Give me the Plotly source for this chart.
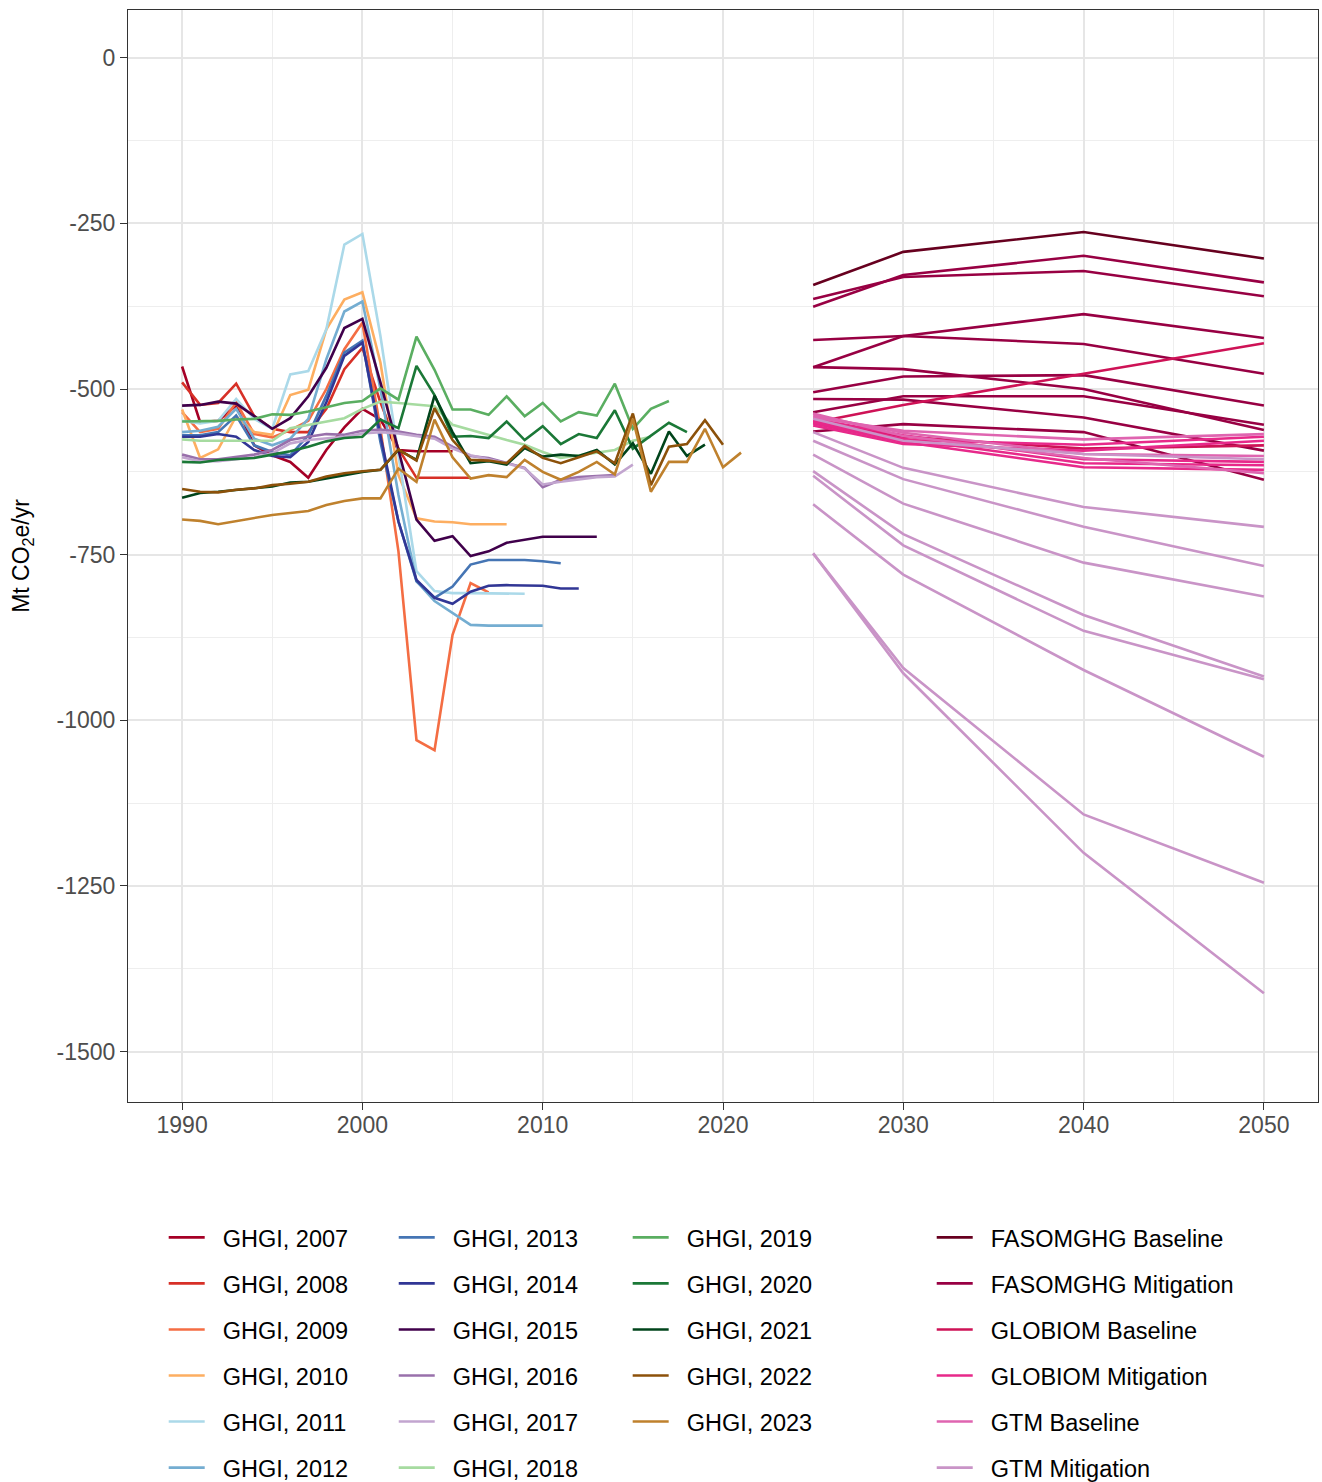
import plotly.graph_objects as go

# ---------------------------------------------------------------------------
# Historical inventory series (Mt CO2e/yr), each starting in 1990
# ---------------------------------------------------------------------------
start_year = 1990

ghgi_2007 = [-466, -550, -548, -525, -585, -600, -610, -634, -592, -558, -530,
             -546, -592, -594, -594, -594]
ghgi_2008 = [-490, -524, -521, -492, -541, -560, -565, -565, -530, -470, -438,
             -520, -590, -634, -634, -634, -634]
ghgi_2009 = [-535, -565, -560, -520, -568, -573, -562, -548, -500, -440, -400,
             -560, -745, -1030, -1045, -871, -793, -807]
ghgi_2010 = [-531, -604, -591, -541, -565, -569, -509, -501, -410, -365, -354,
             -460, -630, -695, -700, -701, -704, -704, -704]
ghgi_2011 = [-548, -552, -548, -515, -545, -560, -478, -473, -410, -282, -266,
             -420, -600, -775, -805, -808, -808, -808, -809, -809]
ghgi_2012 = [-565, -563, -557, -530, -575, -585, -575, -545, -455, -383, -368,
             -500, -660, -790, -820, -838, -856, -857, -857, -857, -857]
ghgi_2013 = [-570, -570, -565, -540, -585, -595, -600, -570, -510, -445, -427,
             -580, -700, -790, -815, -798, -765, -758, -758, -758, -760, -763]
ghgi_2014 = [-572, -572, -568, -572, -592, -601, -603, -580, -520, -450, -430,
             -570, -700, -788, -815, -824, -806, -797, -796, -796, -797, -801,
             -801]
ghgi_2015 = [-525, -524, -519, -522, -541, -560, -544, -511, -468, -408, -394,
             -490, -592, -697, -729, -722, -752, -745, -732, -728, -723, -723,
             -723, -723]
ghgi_2016 = [-599, -606, -606, -603, -599, -592, -577, -572, -568, -569, -563,
             -561, -564, -569, -572, -587, -601, -604, -612, -619, -648, -637,
             -633, -631, -630]
ghgi_2017 = [-603, -609, -609, -606, -603, -597, -582, -577, -574, -572, -567,
             -565, -567, -571, -575, -590, -600, -606, -612, -620, -644, -640,
             -636, -633, -632, -614]
ghgi_2018 = [-576, -578, -578, -578, -578, -578, -559, -554, -549, -544, -530,
             -519, -521, -524, -526, -554, -562, -569, -577, -584, -595, -604,
             -600, -596, -592, -578, -572]
ghgi_2019 = [-549, -549, -548, -546, -545, -538, -539, -534, -527, -521, -518,
             -499, -516, -421, -471, -531, -531, -539, -511, -541, -521, -549,
             -535, -540, -492, -560, -530, -518]
ghgi_2020 = [-610, -611, -607, -606, -604, -599, -594, -587, -579, -574, -572,
             -546, -559, -465, -509, -572, -571, -574, -549, -577, -556, -583,
             -568, -574, -532, -590, -570, -551, -565]
ghgi_2021 = [-664, -657, -655, -652, -650, -647, -641, -640, -635, -630, -625,
             -622, -592, -607, -510, -565, -612, -609, -614, -589, -602, -599,
             -601, -592, -614, -582, -628, -564, -601, -584]
ghgi_2022 = [-651, -655, -656, -652, -650, -645, -643, -640, -632, -627, -624,
             -622, -591, -608, -529, -577, -607, -608, -612, -586, -604, -612,
             -603, -594, -612, -537, -645, -587, -583, -547, -584]
ghgi_2023 = [-697, -699, -704, -699, -695, -690, -687, -684, -675, -669, -665,
             -665, -620, -640, -546, -603, -635, -630, -633, -607, -625, -637,
             -625, -610, -629, -545, -655, -610, -610, -560, -618, -596]

ghgi_names = ["GHGI, 2007", "GHGI, 2008", "GHGI, 2009", "GHGI, 2010",
              "GHGI, 2011", "GHGI, 2012", "GHGI, 2013", "GHGI, 2014",
              "GHGI, 2015", "GHGI, 2016", "GHGI, 2017", "GHGI, 2018",
              "GHGI, 2019", "GHGI, 2020", "GHGI, 2021", "GHGI, 2022",
              "GHGI, 2023"]
ghgi_series = [ghgi_2007, ghgi_2008, ghgi_2009, ghgi_2010, ghgi_2011,
               ghgi_2012, ghgi_2013, ghgi_2014, ghgi_2015, ghgi_2016,
               ghgi_2017, ghgi_2018, ghgi_2019, ghgi_2020, ghgi_2021,
               ghgi_2022, ghgi_2023]
ghgi_colors = ["#a50026", "#d73027", "#f46d43", "#fdae61", "#abd9e9",
               "#74add1", "#4575b4", "#313695", "#40004b", "#9970ab",
               "#c2a5cf", "#a6dba0", "#5aae61", "#1b7837", "#00441b",
               "#8c510a", "#bf812d"]

# ---------------------------------------------------------------------------
# Model projections (Mt CO2e/yr)
# ---------------------------------------------------------------------------
proj_years = [2025, 2030, 2040, 2050]

fasomghg_baseline = [
    [-343, -293, -263, -303],
]
fasomghg_mitigation = [
    [-364, -331, -322, -360],
    [-376, -328, -299, -339],
    [-426, -420, -432, -477],
    [-467, -420, -387, -423],
    [-467, -470, -500, -562],
    [-505, -481, -479, -525],
    [-515, -516, -543, -593],
    [-535, -511, -511, -554],
    [-564, -553, -565, -637],
]
globiom_baseline = [
    [-551, -524, -477, -431],
    [-548, -572, -590, -585],
]
globiom_mitigation = [
    [-548, -575, -612, -615],
    [-552, -580, -618, -622],
    [-545, -570, -606, -610],
    [-550, -577, -584, -572],
    [-555, -583, -593, -578],
]
gtm_baseline = [
    [-540, -566, -598, -601],
    [-543, -563, -576, -568],
    [-537, -571, -604, -627],
]
gtm_mitigation = [
    [-545, -578, -598, -606],
    [-565, -619, -678, -708],
    [-578, -636, -708, -767],
    [-599, -673, -762, -813],
    [-624, -719, -841, -934],
    [-631, -736, -865, -938],
    [-674, -780, -924, -1055],
    [-748, -921, -1142, -1245],
    [-748, -929, -1200, -1412],
]

model_names = ["FASOMGHG Baseline", "FASOMGHG Mitigation", "GLOBIOM Baseline",
               "GLOBIOM Mitigation", "GTM Baseline", "GTM Mitigation"]
model_runs = [fasomghg_baseline, fasomghg_mitigation, globiom_baseline,
              globiom_mitigation, gtm_baseline, gtm_mitigation]
model_colors = ["#67001f", "#980043", "#ce1256", "#e7298a", "#df65b0",
                "#c994c7"]

# axis ticks
x_tickvals = [1990, 2000, 2010, 2020, 2030, 2040, 2050]
y_tickvals = [0, -250, -500, -750, -1000, -1250, -1500]
y_ticktext = ["0", "-250", "-500", "-750", "-1000", "-1250", "-1500"]

# ---------------------------------------------------------------------------
# Figure
# ---------------------------------------------------------------------------
FONT = "Liberation Sans, Arial, sans-serif"
LINE_W = 2.6
TICK_SIZE = 23
KEY_PAD = "\u00a0\u00a0"   # space between legend key and its label

fig = go.Figure()

# four legend columns: GHGI 2007-12, 2013-18, 2019-23, models
legend_of = (["legend"] * 6 + ["legend2"] * 6 + ["legend3"] * 5)

for name, vals, color, leg in zip(ghgi_names, ghgi_series, ghgi_colors,
                                  legend_of):
    years = list(range(start_year, start_year + len(vals)))
    fig.add_trace(go.Scatter(
        x=years, y=vals, mode="lines", name=KEY_PAD + name,
        line=dict(color=color, width=LINE_W),
        legend=leg, legendgroup=name,
    ))

for name, runs, color in zip(model_names, model_runs, model_colors):
    for i, run in enumerate(runs):
        fig.add_trace(go.Scatter(
            x=proj_years, y=run, mode="lines", name=KEY_PAD + name,
            line=dict(color=color, width=LINE_W),
            legend="legend4", legendgroup=name, showlegend=(i == 0),
        ))

legend_common = dict(
    orientation="v", yanchor="top", xanchor="left",
    font=dict(family=FONT, size=23.5, color="#000000"),
    bgcolor="rgba(0,0,0,0)", borderwidth=0,
    tracegroupgap=12.5, itemwidth=36, traceorder="grouped",
)
legend_y = -0.104

grid_major = "#e6e6e6"
grid_minor = "#eeeeee"
axis_line = "#333333"

fig.update_layout(
    width=1322, height=1482,
    margin=dict(l=128, r=4, t=10, b=380, autoexpand=False),
    paper_bgcolor="white", plot_bgcolor="white",
    font=dict(family=FONT, color="#4d4d4d"),
    showlegend=True,
    legend=dict(x=0.0300, y=legend_y, **legend_common),
    legend2=dict(x=0.2233, y=legend_y, **legend_common),
    legend3=dict(x=0.4199, y=legend_y, **legend_common),
    legend4=dict(x=0.6754, y=legend_y, **legend_common),
    xaxis=dict(
        range=[1987, 2053], tickvals=x_tickvals,
        showgrid=True, gridcolor=grid_major, gridwidth=2,
        minor=dict(dtick=5, tick0=1990, showgrid=True, gridcolor=grid_minor,
                   gridwidth=1, ticks=""),
        zeroline=False,
        showline=True, linecolor=axis_line, linewidth=1, mirror=True,
        ticks="outside", ticklen=7, tickcolor=axis_line, tickwidth=1,
        ticklabelstandoff=-5,
        tickfont=dict(family=FONT, size=TICK_SIZE, color="#4d4d4d"),
    ),
    yaxis=dict(
        range=[-1576, 72], tickvals=y_tickvals, ticktext=y_ticktext,
        showgrid=True, gridcolor=grid_major, gridwidth=2,
        minor=dict(dtick=125, tick0=0, showgrid=True, gridcolor=grid_minor,
                   gridwidth=1, ticks=""),
        zeroline=False,
        showline=True, linecolor=axis_line, linewidth=1, mirror=True,
        ticks="outside", ticklen=7, tickcolor=axis_line, tickwidth=1,
        tickfont=dict(family=FONT, size=TICK_SIZE, color="#4d4d4d"),
        title=dict(text="Mt CO<sub>2</sub>e/yr",
                   font=dict(family=FONT, size=23, color="#000000"),
                   standoff=20),
    ),
)

fig.write_html("out.html")
